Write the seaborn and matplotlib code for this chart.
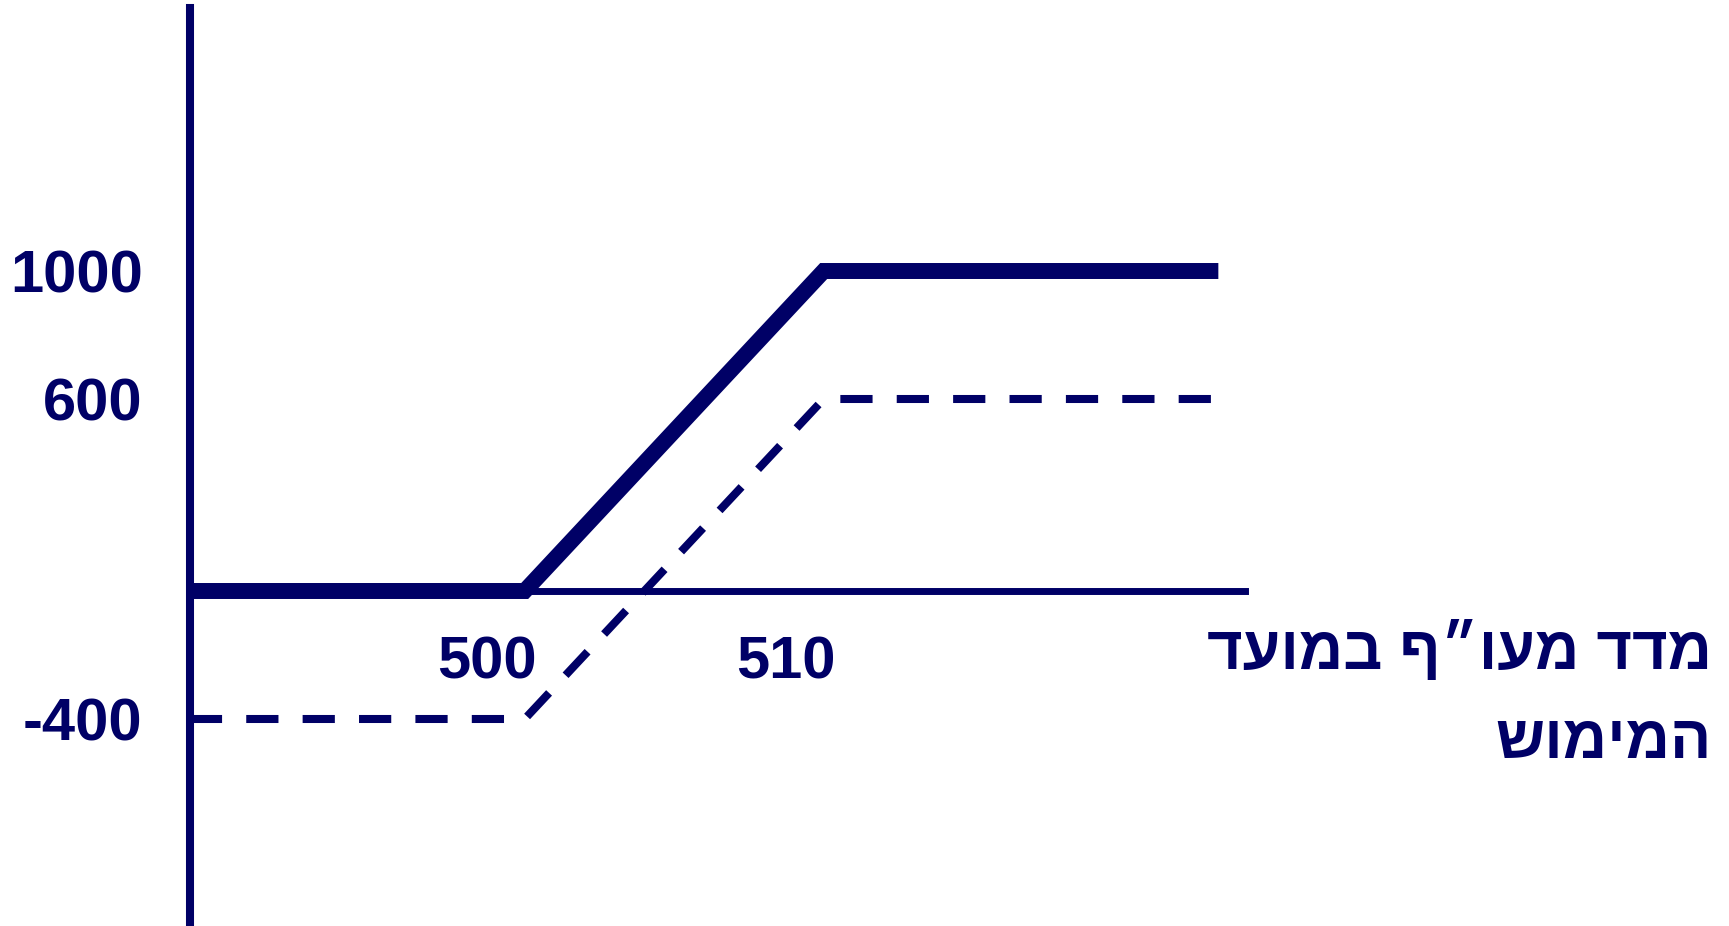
import pandas as pd
import seaborn as sns
import matplotlib.pyplot as plt
import matplotlib.transforms as mtransforms

# payoff data
index_x = [488.8, 500, 510, 523.2]
payoff = [0, 0, 1000, 1000]
dash_x = [488.8, 500, 510, 523.0]
profit = [-400, -400, 600, 600]

x_ticks = [500, 510]
x_labels = ["500", "510"]
y_ticks = [1000, 600, -400]
y_labels = ["1000", "600", "-400"]

axis_title = ["מדד מעו״ף במועד", "המימוש"]

navy = "#000066"

sns.set_theme(style="white")
plt.rcParams["font.family"] = ["Liberation Sans", "DejaVu Sans"]

fig = plt.figure(figsize=(17.29, 9.26), dpi=100)
ax = fig.add_axes([0, 0, 1, 1])
ax.set_xlim(482.45, 540.28)
ax.set_ylim(-1046.9, 1846.9)

df1 = pd.DataFrame({"x": index_x, "y": payoff})
df2 = pd.DataFrame({"x": dash_x, "y": profit})

sns.lineplot(data=df1, x="x", y="y", color=navy, linewidth=11.5,
             solid_capstyle="butt", solid_joinstyle="miter", ax=ax, zorder=4)
sns.lineplot(data=df2, x="x", y="y", color=navy, linewidth=5.8,
             linestyle=(0, (4, 3)), dash_capstyle="butt", ax=ax, zorder=3)

# axes drawn as spines through the origin
for s in ["top", "right"]:
    ax.spines[s].set_visible(False)
ax.spines["left"].set_position(("data", 488.8))
ax.spines["left"].set_bounds(-1046.9, 1822)
ax.spines["left"].set_linewidth(5.8)
ax.spines["left"].set_color(navy)
ax.spines["bottom"].set_position(("data", 0))
ax.spines["bottom"].set_bounds(488.8, 524.1)
ax.spines["bottom"].set_linewidth(5)
ax.spines["bottom"].set_color(navy)

ax.set_xticks(x_ticks)
ax.set_xticklabels(x_labels)
ax.set_yticks(y_ticks)
ax.set_yticklabels(y_labels)
ax.tick_params(axis="both", length=0, labelsize=43, labelcolor=navy)
ax.tick_params(axis="x", pad=32)
ax.tick_params(axis="y", pad=34)
for t in ax.get_xticklabels() + ax.get_yticklabels():
    t.set_fontweight("bold")
shift = mtransforms.ScaledTranslation(-38 / 100, 0, fig.dpi_scale_trans)
for t in ax.get_xticklabels():
    t.set_transform(t.get_transform() + shift)
ax.set_xlabel("")
ax.set_ylabel("")

# Hebrew label, reversed for left-to-right drawing
fig.text(0.99, 1 - 652 / 926, axis_title[0][::-1], ha="right", va="center",
         fontsize=44, fontweight="bold", color=navy)
fig.text(0.99, 1 - 742 / 926, axis_title[1][::-1], ha="right", va="center",
         fontsize=44, fontweight="bold", color=navy)

fig.savefig("out.png", dpi=100)
